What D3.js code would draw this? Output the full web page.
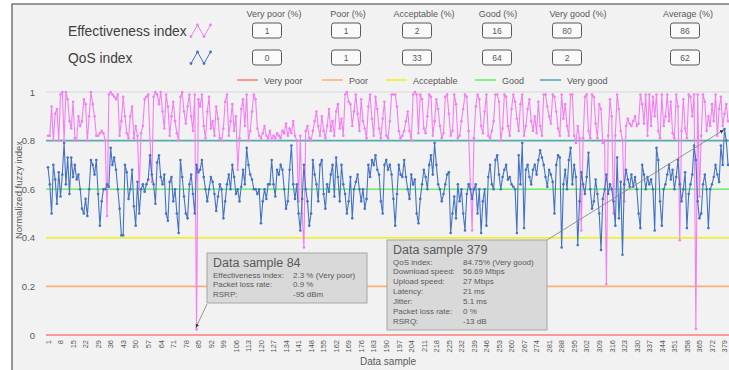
<!DOCTYPE html>
<html>
<head>
<meta charset="utf-8">
<script src="https://cdn.jsdelivr.net/npm/d3@7"></script>
<style>
  body { margin: 0; background: #fff; }
  svg { display: block; font-family: "Liberation Sans", Arial, sans-serif; }
</style>
</head>
<body>
<svg id="chart" width="729" height="370"></svg>
<script>
// effectiveness index per data sample (normalized)
const effectiveness = [
  0.82, 0.82, 0.94, 0.80, 0.91, 0.93, 0.80, 0.99, 1.00, 0.80, 1.00, 0.97, 0.88, 0.85, 0.96, 0.81, 0.80, 0.90, 0.86, 0.88,
  0.97, 0.95, 0.80, 0.90, 1.00, 0.95, 0.90, 0.82, 0.82, 0.83, 0.84, 0.83, 0.80, 0.49, 0.99, 1.00, 0.99, 0.98, 0.97, 0.99,
  0.82, 0.88, 0.98, 0.90, 0.83, 0.81, 0.90, 0.94, 0.81, 0.86, 0.82, 0.60, 0.83, 0.86, 0.97, 0.98, 0.99, 0.80, 0.63, 0.98,
  1.00, 0.99, 0.95, 1.00, 0.92, 0.85, 0.99, 0.94, 0.82, 0.90, 0.96, 0.88, 0.83, 0.80, 0.98, 1.00, 0.92, 0.87, 0.94, 0.99,
  0.90, 0.84, 0.99, 0.023, 0.97, 0.94, 0.99, 0.86, 0.81, 0.92, 0.98, 0.85, 0.88, 0.82, 0.94, 0.89, 0.81, 0.80, 0.85, 0.96,
  0.99, 0.82, 0.88, 0.95, 0.84, 0.90, 0.68, 0.81, 0.93, 0.97, 0.86, 0.99, 0.80, 0.84, 0.92, 0.99, 0.97, 0.85, 0.82, 0.81,
  0.83, 0.86, 0.82, 0.81, 0.84, 0.80, 0.82, 0.81, 0.83, 0.82, 0.81, 0.84, 0.83, 0.87, 0.82, 0.85, 0.83, 0.88, 0.82, 0.80,
  0.55, 0.82, 0.50, 0.36, 0.84, 0.86, 0.81, 0.80, 0.84, 0.88, 0.92, 0.86, 0.82, 0.90, 0.84, 0.81, 0.86, 0.93, 0.84, 0.88,
  0.82, 0.92, 0.95, 0.85, 0.89, 0.82, 0.99, 1.00, 0.96, 0.95, 0.86, 0.92, 0.99, 0.91, 0.84, 0.97, 0.88, 0.85, 0.81, 0.94,
  0.99, 0.89, 0.82, 0.98, 0.93, 0.85, 0.81, 0.89, 0.96, 0.82, 0.81, 0.88, 0.99, 0.99, 0.99, 0.94, 0.84, 0.81, 0.82, 0.84,
  0.88, 0.92, 0.84, 0.80, 0.99, 1.00, 0.99, 0.83, 0.99, 0.97, 0.85, 0.83, 0.90, 0.99, 0.98, 0.82, 0.88, 0.97, 0.93, 0.86,
  0.81, 0.83, 0.98, 0.99, 0.91, 0.82, 0.84, 0.99, 0.95, 0.81, 0.82, 0.88, 0.93, 0.99, 0.98, 0.84, 0.62, 0.43, 0.81, 0.94,
  0.99, 0.97, 0.86, 0.83, 0.92, 0.99, 0.82, 0.81, 0.84, 0.88, 0.99, 0.99, 0.96, 0.80, 0.85, 0.99, 0.98, 0.86, 0.82, 0.93,
  0.99, 0.96, 0.89, 0.84, 0.95, 0.99, 0.82, 0.86, 0.93, 0.97, 0.88, 0.84, 0.90, 0.83, 0.96, 0.86, 0.82, 0.99, 0.99, 0.94,
  0.90, 0.87, 0.99, 0.98, 0.92, 0.85, 0.82, 0.99, 0.89, 0.95, 0.86, 0.82, 0.99, 0.99, 0.82, 0.79, 0.86, 0.81, 0.43, 0.81,
  0.98, 0.99, 0.84, 0.81, 0.99, 0.98, 0.87, 0.81, 0.95, 0.93, 0.79, 0.80, 0.21, 0.82, 0.97, 0.90, 0.50, 0.82, 0.99, 0.93,
  0.84, 0.80, 0.55, 0.86, 0.89, 0.87, 0.86, 0.88, 0.90, 0.86, 0.87, 0.99, 0.95, 0.87, 0.99, 0.82, 0.99, 0.86, 0.98, 0.90,
  0.99, 0.84, 0.81, 0.99, 0.86, 0.90, 0.99, 0.88, 0.96, 0.83, 0.81, 0.99, 0.94, 0.39, 0.84, 0.97, 0.85, 0.81, 0.99, 0.98,
  0.90, 0.99, 0.025, 0.99, 0.57, 0.82, 0.99, 0.96, 0.84, 0.90, 0.86, 0.95, 0.88, 0.99, 0.82, 0.93, 0.98, 0.86, 0.91, 0.95,
  0.88
];

// QoS index per data sample (normalized)
const qos = [
  0.69, 0.62, 0.50, 0.70, 0.64, 0.54, 0.67, 0.57, 0.66, 0.79, 0.62, 0.73, 0.58, 0.73, 0.65, 0.70, 0.64, 0.66, 0.60, 0.52,
  0.50, 0.56, 0.49, 0.60, 0.72, 0.70, 0.66, 0.72, 0.58, 0.45, 0.55, 0.60, 0.60, 0.62, 0.61, 0.77, 0.70, 0.73, 0.68, 0.60,
  0.52, 0.41, 0.41, 0.70, 0.67, 0.56, 0.60, 0.68, 0.53, 0.45, 0.63, 0.50, 0.60, 0.62, 0.59, 0.62, 0.64, 0.74, 0.66, 0.62,
  0.54, 0.71, 0.74, 0.65, 0.62, 0.66, 0.50, 0.47, 0.63, 0.65, 0.55, 0.60, 0.50, 0.42, 0.72, 0.65, 0.57, 0.50, 0.48, 0.62,
  0.66, 0.58, 0.50, 0.70, 0.67, 0.68, 0.72, 0.65, 0.60, 0.55, 0.60, 0.65, 0.63, 0.58, 0.51, 0.57, 0.62, 0.60, 0.48, 0.55,
  0.62, 0.66, 0.60, 0.70, 0.65, 0.58, 0.60, 0.55, 0.61, 0.68, 0.62, 0.77, 0.70, 0.66, 0.64, 0.60, 0.60, 0.58, 0.60, 0.46,
  0.55, 0.60, 0.56, 0.62, 0.62, 0.72, 0.62, 0.57, 0.68, 0.66, 0.70, 0.68, 0.60, 0.52, 0.55, 0.68, 0.78, 0.62, 0.56, 0.62,
  0.50, 0.43, 0.56, 0.70, 0.60, 0.55, 0.45, 0.50, 0.72, 0.66, 0.62, 0.55, 0.70, 0.72, 0.58, 0.52, 0.62, 0.59, 0.66, 0.70,
  0.57, 0.73, 0.65, 0.55, 0.70, 0.62, 0.58, 0.50, 0.55, 0.65, 0.48, 0.60, 0.63, 0.66, 0.60, 0.55, 0.60, 0.52, 0.56, 0.70,
  0.65, 0.72, 0.70, 0.74, 0.68, 0.66, 0.55, 0.50, 0.70, 0.72, 0.68, 0.70, 0.66, 0.56, 0.45, 0.58, 0.70, 0.66, 0.65, 0.72,
  0.65, 0.60, 0.56, 0.66, 0.62, 0.64, 0.50, 0.46, 0.56, 0.62, 0.68, 0.65, 0.60, 0.70, 0.74, 0.66, 0.79, 0.70, 0.62, 0.60,
  0.55, 0.58, 0.62, 0.66, 0.67, 0.42, 0.50, 0.57, 0.48, 0.62, 0.55, 0.60, 0.50, 0.43, 0.58, 0.62, 0.60, 0.56, 0.60, 0.62,
  0.50, 0.60, 0.42, 0.55, 0.60, 0.45, 0.65, 0.70, 0.62, 0.60, 0.72, 0.74, 0.66, 0.60, 0.65, 0.68, 0.70, 0.64, 0.65, 0.62,
  0.61, 0.60, 0.42, 0.74, 0.62, 0.79, 0.44, 0.68, 0.70, 0.65, 0.62, 0.68, 0.70, 0.66, 0.72, 0.76, 0.73, 0.70, 0.65, 0.61,
  0.68, 0.66, 0.63, 0.50, 0.70, 0.74, 0.73, 0.36, 0.62, 0.68, 0.60, 0.72, 0.77, 0.62, 0.70, 0.65, 0.37, 0.55, 0.67, 0.62,
  0.58, 0.65, 0.75, 0.60, 0.52, 0.55, 0.64, 0.58, 0.50, 0.35, 0.56, 0.60, 0.66, 0.58, 0.62, 0.60, 0.55, 0.45, 0.73, 0.48,
  0.63, 0.33, 0.62, 0.68, 0.64, 0.61, 0.66, 0.61, 0.65, 0.60, 0.50, 0.44, 0.70, 0.66, 0.60, 0.65, 0.62, 0.64, 0.60, 0.43,
  0.77, 0.72, 0.55, 0.45, 0.60, 0.62, 0.66, 0.70, 0.64, 0.68, 0.60, 0.65, 0.72, 0.62, 0.55, 0.60, 0.67, 0.44, 0.58, 0.62,
  0.66, 0.78, 0.72, 0.55, 0.48, 0.50, 0.62, 0.66, 0.60, 0.44, 0.60, 0.62, 0.65, 0.70, 0.66, 0.63, 0.78, 0.70, 0.8475, 0.80,
  0.70
];

const sampleTicks = d3.range(1, 380, 7);
const yTicks = [0, 0.2, 0.4, 0.6, 0.8, 1];

const levels = ['Very poor', 'Poor', 'Acceptable', 'Good', 'Very good'];
const levelThresholds = [0, 0.2, 0.4, 0.6, 0.8];
const levelColors = ['#ff7f7f', '#f8b27a', '#f2f21a', '#6cf06c', '#5aa9ad'];

const effectivenessPct = [1, 1, 2, 16, 80];
const qosPct = [0, 1, 33, 64, 2];
const effectivenessAvg = 86;
const qosAvg = 62;

const note84 = [
  ['Effectiveness index:', '2.3 % (Very poor)'],
  ['Packet loss rate:', '0.9 %'],
  ['RSRP:', '-95 dBm']
];
const note379 = [
  ['QoS index:', '84.75% (Very good)'],
  ['Download speed:', '56.69 Mbps'],
  ['Upload speed:', '27 Mbps'],
  ['Latency:', '21 ms'],
  ['Jitter:', '5.1 ms'],
  ['Packet loss rate:', '0 %'],
  ['RSRQ:', '-13 dB']
];

const pink = '#f47ef4';
const blue = '#4472c4';
const textGray = '#595959';

const svg = d3.select('#chart');

// frame of the chart area
svg.append('rect')
  .attr('x', 12).attr('y', 4)
  .attr('width', 740).attr('height', 400)
  .attr('fill', '#f2f2f2')
  .attr('stroke', '#555').attr('stroke-width', 1.2);

const x = d3.scaleLinear().domain([1, 379]).range([48, 724.5]);
const y = d3.scaleLinear().domain([0, 1]).range([335, 92]);

// gridlines
svg.append('g')
  .selectAll('line')
  .data(yTicks)
  .join('line')
  .attr('x1', 46).attr('x2', 729)
  .attr('y1', d => y(d)).attr('y2', d => y(d))
  .attr('stroke', '#d9d9d9').attr('stroke-width', 1);

// quality level lines
svg.append('g')
  .selectAll('line')
  .data(levelThresholds)
  .join('line')
  .attr('x1', 46).attr('x2', 729)
  .attr('y1', d => y(d)).attr('y2', d => y(d))
  .attr('stroke', (d, i) => levelColors[i]).attr('stroke-width', 1.6);

// y axis
const yAxis = svg.append('g')
  .attr('transform', 'translate(38,0)')
  .call(d3.axisLeft(y).tickValues(yTicks).tickSize(0).tickPadding(3).tickFormat(d3.format('~g')));
yAxis.select('.domain').remove();
yAxis.selectAll('text').attr('fill', textGray).attr('font-size', 9.5).attr('font-family', 'Liberation Sans, Arial, sans-serif');

svg.append('text')
  .attr('transform', 'translate(22,190) rotate(-90)')
  .attr('text-anchor', 'middle')
  .attr('fill', textGray).attr('font-size', 9.5)
  .text('Normalized fuzzy index');

// x axis
const xAxis = svg.append('g')
  .attr('transform', 'translate(0,338)')
  .call(d3.axisBottom(x).tickValues(sampleTicks).tickSize(0).tickPadding(0));
xAxis.select('.domain').remove();
xAxis.selectAll('text')
  .attr('fill', textGray).attr('font-size', 7.5).attr('font-family', 'Liberation Sans, Arial, sans-serif')
  .attr('text-anchor', 'end')
  .attr('transform', 'rotate(-90)')
  .attr('x', -2).attr('y', 0).attr('dy', '0.3em');

svg.append('text')
  .attr('x', 388).attr('y', 365)
  .attr('text-anchor', 'middle')
  .attr('fill', textGray).attr('font-size', 10)
  .text('Data sample');

// series
function drawSeries(values, color) {
  const pts = values.map((v, i) => [i + 1, v]);
  const line = d3.line().x(d => x(d[0])).y(d => y(d[1]));
  svg.append('path')
    .datum(pts)
    .attr('fill', 'none')
    .attr('stroke', color).attr('stroke-width', 1.1)
    .attr('d', line);
  svg.append('g')
    .selectAll('circle')
    .data(pts)
    .join('circle')
    .attr('cx', d => x(d[0])).attr('cy', d => y(d[1]))
    .attr('r', 1.3)
    .attr('fill', color);
}
drawSeries(effectiveness, pink);
drawSeries(qos, blue);

// header: series legend and percentage boxes
const rowY = [31, 58];
const rowNames = ['Effectiveness index', 'QoS index'];
const rowColors = [pink, blue];
const rowPct = [effectivenessPct, qosPct];
const rowAvg = [effectivenessAvg, qosAvg];
const headCx = [274, 348, 424, 498, 578];
const boxCx = [267, 346, 417, 497, 567];

svg.append('g')
  .selectAll('text')
  .data(levels.map(l => l + ' (%)').concat(['Average (%)']))
  .join('text')
  .attr('x', (d, i) => i < 5 ? headCx[i] : 688)
  .attr('y', 17)
  .attr('text-anchor', 'middle')
  .attr('fill', textGray).attr('font-size', 9)
  .text(d => d);

rowNames.forEach((name, r) => {
  svg.append('text')
    .attr('x', 68).attr('y', rowY[r] + 5)
    .attr('fill', '#404040').attr('font-size', 13.8)
    .text(name);

  const icon = [[191, rowY[r] + 5.5], [197.5, rowY[r] - 6], [204, rowY[r] + 5.5], [210.5, rowY[r] - 6]];
  svg.append('path')
    .attr('d', d3.line()(icon))
    .attr('fill', 'none').attr('stroke', rowColors[r]).attr('stroke-width', 1);
  svg.append('g')
    .selectAll('circle')
    .data(icon)
    .join('circle')
    .attr('cx', d => d[0]).attr('cy', d => d[1]).attr('r', 1.4)
    .attr('fill', rowColors[r]);

  const vals = rowPct[r].concat([rowAvg[r]]);
  const g = svg.append('g')
    .selectAll('g')
    .data(vals)
    .join('g')
    .attr('transform', (d, i) => `translate(${i < 5 ? boxCx[i] : 685},${rowY[r]})`);
  g.append('rect')
    .attr('x', -14.5).attr('y', -8)
    .attr('width', 29).attr('height', 15)
    .attr('rx', 2.5)
    .attr('fill', '#fafafa').attr('stroke', '#595959').attr('stroke-width', 1);
  g.append('text')
    .attr('y', 3)
    .attr('text-anchor', 'middle')
    .attr('fill', textGray).attr('font-size', 8.5)
    .text(d => d);
});

// legend for level lines
const legX = [237, 322, 386, 475, 540];
const leg = svg.append('g')
  .selectAll('g')
  .data(levels)
  .join('g')
  .attr('transform', (d, i) => `translate(${legX[i]},80)`);
leg.append('line')
  .attr('x1', 0).attr('x2', 21)
  .attr('stroke', (d, i) => levelColors[i]).attr('stroke-width', 1.6);
leg.append('text')
  .attr('x', 27).attr('y', 3.5)
  .attr('fill', textGray).attr('font-size', 9)
  .text(d => d);

// annotations
const defs = svg.append('defs');
defs.append('marker')
  .attr('id', 'arrow')
  .attr('viewBox', '0 0 10 10')
  .attr('refX', 9).attr('refY', 5)
  .attr('markerWidth', 5).attr('markerHeight', 5)
  .attr('orient', 'auto')
  .append('path')
  .attr('d', 'M0,0L10,5L0,10z')
  .attr('fill', '#404040');

function note(bx, by, bw, bh, title, rows, valueX, target, from) {
  svg.append('line')
    .attr('x1', from[0]).attr('y1', from[1])
    .attr('x2', target[0]).attr('y2', target[1])
    .attr('stroke', '#7f7f7f').attr('stroke-width', 0.8)
    .attr('marker-end', 'url(#arrow)');
  svg.append('rect')
    .attr('x', bx).attr('y', by)
    .attr('width', bw).attr('height', bh)
    .attr('fill', '#d9d9d9').attr('stroke', '#a6a6a6').attr('stroke-width', 1);
  svg.append('text')
    .attr('x', bx + 6).attr('y', by + 14)
    .attr('fill', textGray).attr('font-size', 12.5)
    .text(title);
  const r = svg.append('g')
    .selectAll('g')
    .data(rows)
    .join('g')
    .attr('transform', (d, i) => `translate(0,${by + 24.5 + i * 9.85})`);
  r.append('text')
    .attr('x', bx + 6)
    .attr('fill', textGray).attr('font-size', 8)
    .text(d => d[0]);
  r.append('text')
    .attr('x', valueX)
    .attr('fill', textGray).attr('font-size', 8)
    .text(d => d[1]);
}

note(207, 253, 160, 50, 'Data sample 84', note84, 293,
  [x(84) - 0.5, y(effectiveness[83]) - 2], [207, 304]);
note(387, 240, 160, 90, 'Data sample 379', note379, 463,
  [x(379) - 1, y(qos[378]) + 1], [547, 240]);
</script>
</body>
</html>
